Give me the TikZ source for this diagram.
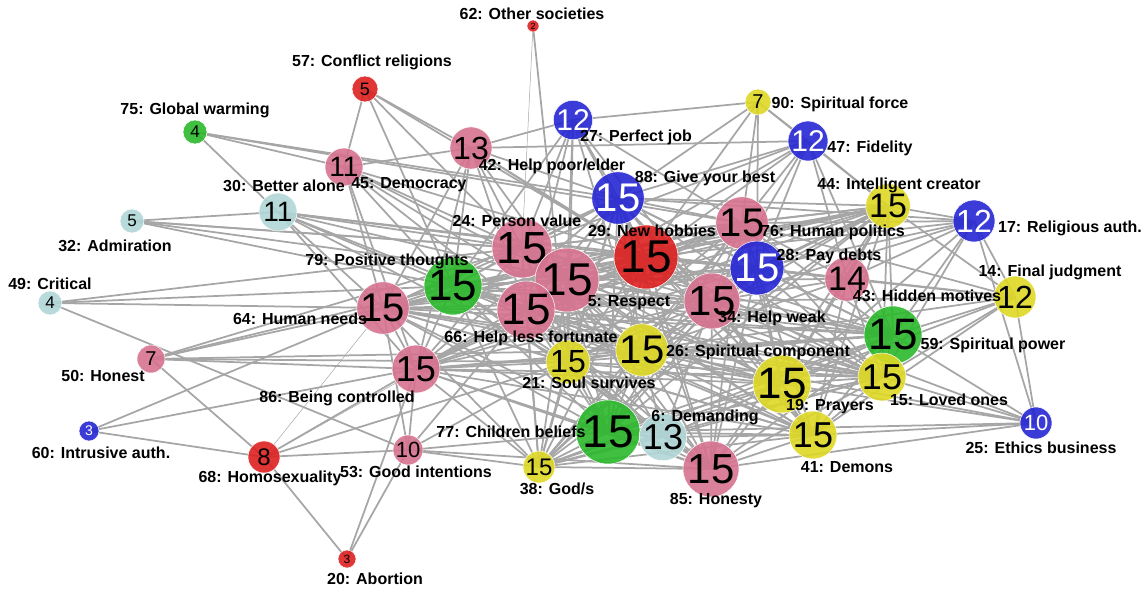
\documentclass[tikz,border=0pt]{standalone}
\usepackage{fontspec}
\setmainfont{Liberation Sans}
\definecolor{pinkv}{RGB}{214,114,144}
\definecolor{redv}{RGB}{222,32,32}
\definecolor{bluev}{RGB}{38,38,212}
\definecolor{yellowv}{RGB}{222,216,36}
\definecolor{greenv}{RGB}{44,184,44}
\definecolor{cyanv}{RGB}{176,214,214}
\definecolor{linkgray}{RGB}{166,166,166}
\pgfdeclarelayer{edges}
\pgfsetlayers{edges,main}

\begin{document}
\begin{tikzpicture}[x=1pt, y=-1pt,
        v/.style 2 args={circle, inner sep=0pt, minimum size=#1, draw=white, line width=0.5pt,
            fill opacity=0.9, text opacity=1, font=\fontsize{#2}{#2}\selectfont},
        lbl/.style={inner sep=0pt, font=\bfseries\fontsize{16}{16}\selectfont},
        link/.style={draw=linkgray, line width=1.75pt},
        thinlink/.style={draw=linkgray, line width=0.5pt}]
        \useasboundingbox (0,0) rectangle (1148,592);

        \node[v={12}{9}, fill=redv] (n62) at (533,26) {2};
        \node[v={26}{18}, fill=redv] (n57) at (365,89) {5};
        \node[v={24}{17}, fill=greenv] (n75) at (195,132) {4};
        \node[v={38}{28}, fill=pinkv] (n45) at (344,167) {11};
        \node[v={42}{32}, fill=pinkv] (n42) at (471,148) {13};
        \node[v={38}{30}, fill=bluev, text=white] (n27) at (573,120) {12};
        \node[v={26}{20}, fill=yellowv] (n90) at (758,102) {7};
        \node[v={40}{30}, fill=bluev, text=white] (n47) at (808,141) {12};
        \node[v={52}{40}, fill=bluev, text=white] (n88) at (618,198) {15};
        \node[v={38}{28}, fill=cyanv] (n30) at (278,212) {11};
        \node[v={24}{17}, fill=cyanv] (n32) at (132,221) {5};
        \node[v={42}{34}, fill=yellowv] (n44) at (888,206) {15};
        \node[v={42}{32}, fill=bluev, text=white] (n17) at (974,221) {12};
        \node[v={60}{45}, fill=pinkv] (n24) at (522,248) {15};
        \node[v={52}{40}, fill=pinkv] (n76) at (742,223) {15};
        \node[v={64}{46}, fill=redv] (n29) at (646,257) {15};
        \node[v={54}{40}, fill=bluev, text=white] (n28) at (757,268) {15};
        \node[v={64}{46}, fill=pinkv] (n5) at (567,280) {15};
        \node[v={58}{44}, fill=greenv] (n79) at (453,286) {15};
        \node[v={44}{34}, fill=pinkv] (n43) at (847,279) {14};
        \node[v={42}{32}, fill=yellowv] (n14) at (1015,297) {12};
        \node[v={24}{17}, fill=cyanv] (n49) at (50,303) {4};
        \node[v={52}{40}, fill=pinkv] (n64) at (383,308) {15};
        \node[v={58}{44}, fill=pinkv] (n66) at (526,310) {15};
        \node[v={56}{42}, fill=pinkv] (n34) at (712,301) {15};
        \node[v={58}{44}, fill=greenv] (n59) at (893,335) {15};
        \node[v={28}{20}, fill=pinkv] (n50) at (151,359) {7};
        \node[v={48}{36}, fill=pinkv] (n86) at (416,369) {15};
        \node[v={44}{32}, fill=yellowv] (n21) at (568,362) {15};
        \node[v={52}{40}, fill=yellowv] (n26) at (642,350) {15};
        \node[v={58}{44}, fill=yellowv] (n19) at (782,384) {15};
        \node[v={48}{36}, fill=yellowv] (n15) at (882,377) {15};
        \node[v={20}{14}, fill=bluev, text=white] (n60) at (89,431) {3};
        \node[v={30}{22}, fill=pinkv] (n53) at (408,450) {10};
        \node[v={64}{46}, fill=greenv] (n77) at (608,432) {15};
        \node[v={46}{36}, fill=cyanv] (n6) at (663,437) {13};
        \node[v={48}{36}, fill=yellowv] (n41) at (813,435) {15};
        \node[v={32}{22}, fill=bluev, text=white] (n25) at (1036,423) {10};
        \node[v={32}{24}, fill=redv] (n68) at (264,457) {8};
        \node[v={32}{24}, fill=yellowv] (n38) at (539,467) {15};
        \node[v={56}{42}, fill=pinkv] (n85) at (711,469) {15};
        \node[v={18}{12}, fill=redv] (n20) at (347,559) {3};

        \node[lbl] (l62) at (532,14) {62: Other societies};
        \node[lbl] (l57) at (372,62) {57: Conflict religions};
        \node[lbl] (l75) at (195,110) {75: Global warming};
        \node[lbl] (l30) at (284,186) {30: Better alone};
        \node[lbl] (l45) at (409,185) {45: Democracy};
        \node[lbl] (l42) at (552,166) {42: Help poor/elder};
        \node[lbl] (l27) at (636,137) {27: Perfect job};
        \node[lbl] (l90) at (840,104) {90: Spiritual force};
        \node[lbl] (l47) at (870,148) {47: Fidelity};
        \node[lbl] (l88) at (705,178) {88: Give your best};
        \node[lbl] (l44) at (899,185) {44: Intelligent creator};
        \node[lbl] (l17) at (1070,228) {17: Religious auth.};
        \node[lbl] (l32) at (115,246) {32: Admiration};
        \node[lbl] (l24) at (517,221) {24: Person value};
        \node[lbl] (l29) at (652,231) {29: New hobbies};
        \node[lbl] (l76) at (833,232) {76: Human politics};
        \node[lbl] (l28) at (829,256) {28: Pay debts};
        \node[lbl] (l79) at (387,261) {79: Positive thoughts};
        \node[lbl] (l14) at (1050,272) {14: Final judgment};
        \node[lbl] (l49) at (50,284) {49: Critical};
        \node[lbl] (l43) at (927,296) {43: Hidden motives};
        \node[lbl] (l5) at (629,303) {5: Respect};
        \node[lbl] (l64) at (300,319) {64: Human needs};
        \node[lbl] (l34) at (772,318) {34: Help weak};
        \node[lbl] (l66) at (531,338) {66: Help less fortunate};
        \node[lbl] (l59) at (993,345) {59: Spiritual power};
        \node[lbl] (l26) at (758,352) {26: Spiritual component};
        \node[lbl] (l50) at (103,376) {50: Honest};
        \node[lbl] (l21) at (589,383) {21: Soul survives};
        \node[lbl] (l86) at (337,398) {86: Being controlled};
        \node[lbl] (l15) at (949,400) {15: Loved ones};
        \node[lbl] (l19) at (830,407) {19: Prayers};
        \node[lbl] (l6) at (705,417) {6: Demanding};
        \node[lbl] (l77) at (511,432) {77: Children beliefs};
        \node[lbl] (l25) at (1041,448) {25: Ethics business};
        \node[lbl] (l60) at (101,453) {60: Intrusive auth.};
        \node[lbl] (l41) at (847,467) {41: Demons};
        \node[lbl] (l53) at (416,472) {53: Good intentions};
        \node[lbl] (l68) at (270,478) {68: Homosexuality};
        \node[lbl] (l38) at (557,489) {38: God/s};
        \node[lbl] (l85) at (716,501) {85: Honesty};
        \node[lbl] (l20) at (375,579) {20: Abortion};

        \begin{pgfonlayer}{edges}
        \def\core{88,24,76,29,28,5,79,44,64,66,34,59,86,21,26,19,15,77,41,38,85}
        \foreach \a [count=\i] in \core {
            \foreach \b [count=\j] in \core {
                \ifnum\i<\j \draw[link] (n\a.center) -- (n\b.center); \fi
            }
        }
        \foreach \a/\b in {62/21, 57/42, 57/24, 57/79, 57/29, 57/45, 75/30, 75/45, 75/88, 75/76,
                32/30, 32/24, 32/5, 32/29, 32/79, 49/24, 49/79, 49/64, 49/53,
                50/64, 50/79, 50/24, 50/86, 50/21, 50/26, 50/68, 60/64, 60/86, 60/68,
                68/20, 68/86, 68/53, 68/21, 20/53, 20/86,
                53/86, 53/64, 53/77, 53/85, 53/21, 53/66, 53/38,
                45/42, 45/24, 45/5, 45/79, 45/64, 45/66, 45/29, 45/86, 45/26,
                30/24, 30/5, 30/79, 30/64, 30/66, 30/29, 30/28, 30/86, 30/21,
                42/27, 42/24, 42/5, 42/79, 42/66, 42/64, 42/29, 42/88, 42/86, 42/34, 42/47,
                27/88, 27/24, 27/29, 27/5, 27/66, 27/79, 27/34, 27/76, 27/26, 27/90, 27/21,
                90/88, 90/76, 90/28, 90/44, 90/29, 90/47,
                47/88, 47/76, 47/28, 47/44, 47/43, 47/29, 47/34, 47/24, 47/5, 47/59,
                17/14, 17/25, 17/44, 17/59, 17/43, 17/76, 17/28, 17/34, 17/19, 17/15, 17/29, 17/88,
                14/25, 14/59, 14/43, 14/44, 14/19, 14/15, 14/34, 14/28, 14/76, 14/41, 14/26,
                43/44, 43/76, 43/28, 43/34, 43/59, 43/19, 43/15, 43/29, 43/5, 43/26, 43/41,
                25/59, 25/15, 25/41, 25/19, 25/85, 25/26, 25/34, 25/77,
                6/77, 6/85, 6/38, 6/21, 6/26, 6/19, 6/41, 6/34, 6/66, 6/5, 6/59, 6/15, 6/79}
            \draw[link] (n\a.center) -- (n\b.center);
        \foreach \a/\b in {62/24, 68/64, 68/66}
            \draw[thinlink] (n\a.center) -- (n\b.center);
        \end{pgfonlayer}
    \end{tikzpicture}
\end{document}
